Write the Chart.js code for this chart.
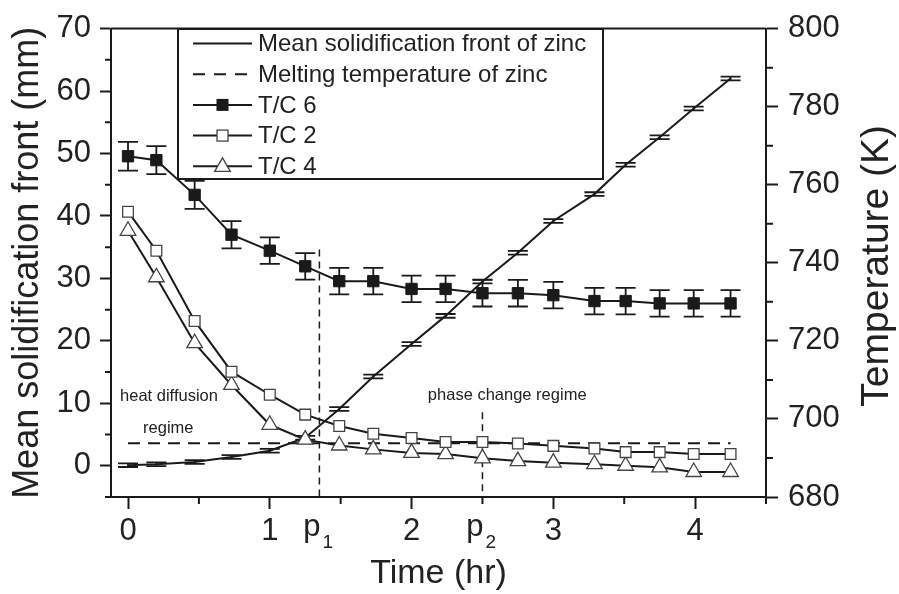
<!DOCTYPE html>
<html>
<head>
<meta charset="utf-8">
<script src="https://cdn.jsdelivr.net/npm/chart.js@4"></script>
<style>
  body { margin: 0; background: #fff; }
  canvas { display: block; }
</style>
</head>
<body>
<canvas id="chart" width="899" height="594"></canvas>
<script>
// time of each reading (hr)
const times = [0, 0.2, 0.47, 0.73, 1.0, 1.25, 1.49, 1.73, 2.0, 2.24, 2.5, 2.75, 3.0, 3.29, 3.51, 3.75, 3.99, 4.25];

// thermocouple temperatures (K)
const tc6 = [767.3, 766.3, 757.4, 747.2, 743.1, 739.1, 735.3, 735.3, 733.3, 733.3, 732.2, 732.2, 731.7, 730.2, 730.2, 729.6, 729.6, 729.6];
const tc6Err = [3.7, 3.6, 3.6, 3.5, 3.4, 3.4, 3.4, 3.4, 3.4, 3.4, 3.4, 3.4, 3.4, 3.4, 3.4, 3.4, 3.4, 3.4];
const tc2 = [753.1, 743.1, 725.1, 712.1, 706.2, 701.1, 698.2, 696.2, 695.1, 694.1, 694.1, 693.7, 693.1, 692.4, 691.5, 691.5, 691.0, 691.0];
const tc4 = [748.2, 736.3, 719.4, 708.7, 698.5, 694.7, 693.2, 692.2, 691.3, 691.0, 689.9, 689.2, 688.8, 688.4, 688.0, 687.6, 686.4, 686.4];

// mean solidification front (mm)
const front = [0.1, 0.25, 0.6, 1.4, 2.4, 4.5, 9.1, 14.3, 19.5, 24.0, 29.5, 34.1, 39.2, 43.5, 48.2, 52.6, 57.2, 62.0];
const frontErr = [0.3, 0.3, 0.3, 0.3, 0.3, 0.3, 0.3, 0.3, 0.3, 0.3, 0.3, 0.3, 0.3, 0.3, 0.3, 0.3, 0.3, 0.3];

// melting temperature of zinc (K) and the span it is drawn over
const meltTemp = 693.8;
const meltSpan = [0, 4.25];

// regime boundaries p1, p2
const phaseTimes = [1.35, 2.5];
const phaseSubs = ['1', '2'];
const phaseTopTemp = [743.4, 701.7];

// ticks
const xMajor = [0, 1, 2, 3, 4];
const xMinor = [0.5, 1.5, 2.5, 3.5, 4.5];
const yMajor = [0, 10, 20, 30, 40, 50, 60, 70];
const yMinor = [-5, 5, 15, 25, 35, 45, 55, 65];
const y2Major = [680, 700, 720, 740, 760, 780, 800];
const y2Minor = [690, 710, 730, 750, 770, 790];

const legendLabels = ['Mean solidification front of zinc', 'Melting temperature of zinc', 'T/C 6', 'T/C 2', 'T/C 4'];

const FONT = "'Liberation Sans', Arial, Helvetica, sans-serif";
const INK = '#1a1a1a';

const pts = (ys) => times.map((t, i) => ({ x: t, y: ys[i] }));

// error bars, drawn under the markers
const errorBars = {
  id: 'errorBars',
  beforeDatasetsDraw(chart) {
    const ctx = chart.ctx;
    const xs = chart.scales.x;
    chart.data.datasets.forEach((ds) => {
      if (!ds.errors) return;
      const ys = chart.scales[ds.yAxisID];
      ctx.save();
      ctx.strokeStyle = INK;
      ctx.lineWidth = 1.8;
      ds.data.forEach((p, j) => {
        const px = xs.getPixelForValue(p.x);
        const top = ys.getPixelForValue(p.y + ds.errors[j]);
        const bot = ys.getPixelForValue(p.y - ds.errors[j]);
        ctx.beginPath();
        ctx.moveTo(px, top); ctx.lineTo(px, bot);
        ctx.moveTo(px - 10, top); ctx.lineTo(px + 10, top);
        ctx.moveTo(px - 10, bot); ctx.lineTo(px + 10, bot);
        ctx.stroke();
      });
      ctx.restore();
    });
  }
};

// minor ticks, frame top, p labels, annotations, right title, legend box
const extras = {
  id: 'extras',
  afterDraw(chart) {
    const { ctx, chartArea: a, scales: { x, y, y2 } } = chart;
    ctx.save();
    ctx.strokeStyle = INK;
    ctx.lineWidth = 2;
    ctx.beginPath();
    xMinor.forEach(v => { const p = x.getPixelForValue(v); ctx.moveTo(p, x.top); ctx.lineTo(p, x.top + 7); });
    yMinor.forEach(v => { const p = y.getPixelForValue(v); ctx.moveTo(y.right, p); ctx.lineTo(y.right - 6, p); });
    y2Minor.forEach(v => { const p = y2.getPixelForValue(v); ctx.moveTo(y2.left, p); ctx.lineTo(y2.left + 7, p); });
    // top of the frame
    ctx.moveTo(a.left, a.top); ctx.lineTo(a.right, a.top);
    ctx.stroke();

    ctx.fillStyle = '#222';
    // p1, p2 under the axis
    phaseTimes.forEach((t, i) => {
      const px = x.getPixelForValue(t);
      ctx.font = '31px ' + FONT;
      ctx.textAlign = 'right';
      ctx.textBaseline = 'alphabetic';
      ctx.fillText('p', px + 1, x.top + 39);
      ctx.font = '19px ' + FONT;
      ctx.textAlign = 'left';
      ctx.fillText(phaseSubs[i], px + 3, x.top + 51);
    });

    // regime notes
    ctx.font = '16.5px ' + FONT;
    ctx.textAlign = 'left';
    ctx.textBaseline = 'alphabetic';
    ctx.fillText('heat diffusion', x.getPixelForValue(-0.056), y.getPixelForValue(10.4));
    ctx.fillText('regime', x.getPixelForValue(0.106), y.getPixelForValue(5.2));
    ctx.fillText('phase change regime', x.getPixelForValue(2.115), y.getPixelForValue(10.6));

    // right axis title, reading upwards
    ctx.save();
    ctx.translate(877, (a.top + a.bottom) / 2 + 3);
    ctx.rotate(-Math.PI / 2);
    ctx.font = '39px ' + FONT;
    ctx.textAlign = 'center';
    ctx.textBaseline = 'middle';
    ctx.fillText('Temperature (K)', 0, 0);
    ctx.restore();

    // legend box
    const L = 178, T = 29, W = 425, H = 150;
    ctx.fillStyle = '#fff';
    ctx.fillRect(L, T, W, H);
    ctx.lineWidth = 2;
    ctx.strokeRect(L, T, W, H);
    legendLabels.forEach((label, i) => {
      const cy = T + 14.5 + i * 30.7;
      ctx.lineWidth = 2;
      ctx.strokeStyle = INK;
      ctx.setLineDash(i === 1 ? [12, 9] : []);
      ctx.beginPath();
      ctx.moveTo(193, cy); ctx.lineTo(252, cy);
      ctx.stroke();
      ctx.setLineDash([]);
      const mx = 222.5;
      if (i === 2) {
        ctx.fillStyle = INK;
        ctx.fillRect(mx - 6, cy - 6, 12, 12);
      } else if (i === 3) {
        ctx.fillStyle = '#fff';
        ctx.fillRect(mx - 5.5, cy - 5.5, 11, 11);
        ctx.lineWidth = 1.3;
        ctx.strokeStyle = '#444';
        ctx.strokeRect(mx - 5.5, cy - 5.5, 11, 11);
      } else if (i === 4) {
        ctx.fillStyle = '#fff';
        ctx.lineWidth = 1.3;
        ctx.strokeStyle = '#444';
        ctx.beginPath();
        ctx.moveTo(mx, cy - 8.5);
        ctx.lineTo(mx + 7.8, cy + 5);
        ctx.lineTo(mx - 7.8, cy + 5);
        ctx.closePath();
        ctx.fill();
        ctx.stroke();
      }
      ctx.fillStyle = '#222';
      ctx.font = '24px ' + FONT;
      ctx.textAlign = 'left';
      ctx.textBaseline = 'middle';
      ctx.fillText(label, 258, cy + 1);
    });
    ctx.restore();
  }
};

const setTicks = (list) => (scale) => { scale.ticks = list.map(v => ({ value: v })); };

new Chart(document.getElementById('chart'), {
  type: 'scatter',
  data: {
    datasets: [
      {
        label: 'T/C 6', data: pts(tc6), yAxisID: 'y2', errors: tc6Err,
        showLine: true, borderColor: INK, borderWidth: 2,
        pointStyle: 'rect', pointRadius: 8, pointBackgroundColor: INK, pointBorderColor: INK, pointBorderWidth: 1
      },
      {
        label: 'T/C 2', data: pts(tc2), yAxisID: 'y2',
        showLine: true, borderColor: INK, borderWidth: 2,
        pointStyle: 'rect', pointRadius: 7.6, pointBackgroundColor: '#fff', pointBorderColor: '#444', pointBorderWidth: 1.3
      },
      {
        label: 'T/C 4', data: pts(tc4), yAxisID: 'y2',
        showLine: true, borderColor: INK, borderWidth: 2,
        pointStyle: 'triangle', pointRadius: 9, pointBackgroundColor: '#fff', pointBorderColor: '#444', pointBorderWidth: 1.3
      },
      {
        label: 'Mean solidification front of zinc', data: pts(front), yAxisID: 'y', errors: frontErr,
        showLine: true, borderColor: INK, borderWidth: 2, pointRadius: 0
      },
      {
        label: 'Melting temperature of zinc', yAxisID: 'y2',
        data: meltSpan.map(t => ({ x: t, y: meltTemp })),
        showLine: true, borderColor: INK, borderWidth: 2, borderDash: [12, 8], pointRadius: 0
      },
      ...phaseTimes.map((t, i) => ({
        label: 'p' + phaseSubs[i], yAxisID: 'y2',
        data: [{ x: t, y: phaseTopTemp[i] }, { x: t, y: 680 }],
        showLine: true, borderColor: INK, borderWidth: 1.5, borderDash: [7, 5], pointRadius: 0
      }))
    ]
  },
  options: {
    responsive: false,
    animation: false,
    devicePixelRatio: 1,
    events: [],
    layout: { padding: { top: 26, left: 0, right: 0, bottom: 0 } },
    plugins: { legend: { display: false }, tooltip: { enabled: false } },
    elements: { line: { tension: 0 } },
    scales: {
      x: {
        type: 'linear', position: 'bottom', min: -0.12, max: 4.5,
        afterBuildTicks: setTicks(xMajor),
        afterFit: (s) => { s.height = 97; },
        grid: { drawOnChartArea: false, drawTicks: true, tickLength: 12, tickWidth: 2, tickColor: INK },
        border: { color: INK, width: 2 },
        ticks: { font: { family: FONT, size: 31 }, color: '#222', padding: 4, maxRotation: 0, autoSkip: false },
        title: { display: true, text: 'Time (hr)', font: { family: FONT, size: 34 }, color: '#222', padding: { top: 0, bottom: 0 } }
      },
      y: {
        type: 'linear', position: 'left', min: -5, max: 70,
        afterBuildTicks: setTicks(yMajor),
        afterFit: (s) => { s.width = 111; },
        grid: { drawOnChartArea: false, drawTicks: true, tickLength: 11, tickWidth: 2, tickColor: INK },
        border: { color: INK, width: 2 },
        ticks: { font: { family: FONT, size: 31 }, color: '#222', padding: 9, autoSkip: false },
        title: { display: true, text: 'Mean solidification front (mm)', font: { family: FONT, size: 36 }, color: '#222', padding: { top: 6, bottom: 0 } }
      },
      y2: {
        type: 'linear', position: 'right', min: 680, max: 800,
        afterBuildTicks: setTicks(y2Major),
        afterFit: (s) => { s.width = 133; },
        grid: { drawOnChartArea: false, drawTicks: true, tickLength: 12, tickWidth: 2, tickColor: INK },
        border: { color: INK, width: 2 },
        ticks: { font: { family: FONT, size: 31 }, color: '#222', padding: 10, autoSkip: false }
      }
    }
  },
  plugins: [errorBars, extras]
});
</script>
</body>
</html>
